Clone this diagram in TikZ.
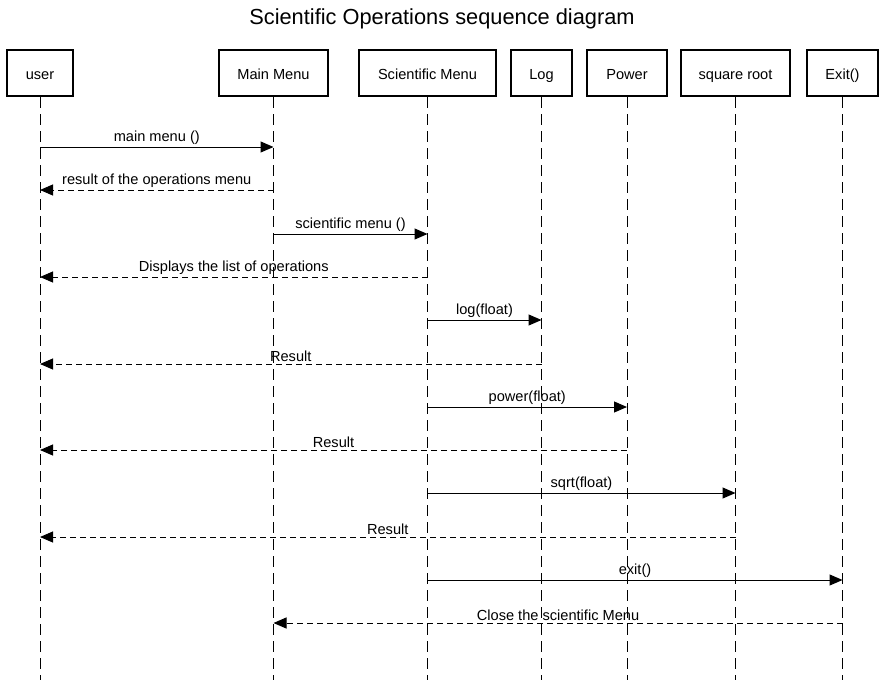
\documentclass[tikz,border=0pt]{standalone}
\usepackage{fontspec}
\setmainfont{Liberation Sans}
\usetikzlibrary{arrows.meta}
\begin{document}
\begin{tikzpicture}[x=1pt,y=-1pt,
  actor/.style={draw,line width=2pt,minimum height=46pt,inner sep=0pt,text height=12.6pt,text depth=0pt,font=\fontsize{14.6}{16}\selectfont,fill=white},
  lifeline/.style={line width=0.9pt,dash pattern=on 11pt off 6pt},
  msg/.style={line width=1pt,-{Triangle[length=13pt,width=11pt]}},
  ret/.style={msg,dash pattern=on 6pt off 4pt},
  lbl/.style={font=\fontsize{14.6}{16}\selectfont,inner sep=1pt,above=0.5pt}]
\useasboundingbox (0,0) rectangle (885,680);
\node[font=\fontsize{21.8}{24}\selectfont] (title) at (442,19) {Scientific Operations sequence diagram};
% actors
\node[actor,minimum width=66pt] (user) at (40,73) {user};
\node[actor,minimum width=109pt] (main) at (273.5,73) {Main Menu};
\node[actor,minimum width=137pt] (sci) at (427.5,73) {Scientific Menu};
\node[actor,minimum width=61pt] (log) at (541.5,73) {Log};
\node[actor,minimum width=80pt] (pow) at (627,73) {Power};
\node[actor,minimum width=109pt] (sqr) at (735.5,73) {square root};
\node[actor,minimum width=71pt] (ex) at (842.5,73) {Exit()};
% lifelines
\foreach \a in {user,main,sci,log,pow,sqr,ex}{
  \coordinate (\a-end) at (\a.south |- 0,680);
  \draw[lifeline] (\a.south) -- (\a-end);
}
% message anchor points
\foreach \a in {user,main,sci,log,pow,sqr,ex}{
  \foreach \i/\y in {1/147,2/190,3/234,4/277,5/320,6/364,7/407,8/450,9/493,10/537,11/580,12/623}{
    \coordinate (\a-\i) at (\a.south |- 0,\y);
  }
}
\draw[msg] (user-1) -- node[lbl] {main menu ()} (main-1);
\draw[ret] (main-2) -- node[lbl] {result of the operations menu} (user-2);
\draw[msg] (main-3) -- node[lbl] {scientific menu ()} (sci-3);
\draw[ret] (sci-4) -- node[lbl] {Displays the list of operations} (user-4);
\draw[msg] (sci-5) -- node[lbl] {log(float)} (log-5);
\draw[ret] (log-6) -- node[lbl] {Result} (user-6);
\draw[msg] (sci-7) -- node[lbl] {power(float)} (pow-7);
\draw[ret] (pow-8) -- node[lbl] {Result} (user-8);
\draw[msg] (sci-9) -- node[lbl] {sqrt(float)} (sqr-9);
\draw[ret] (sqr-10) -- node[lbl] {Result} (user-10);
\draw[msg] (sci-11) -- node[lbl] {exit()} (ex-11);
\draw[ret] (ex-12) -- node[lbl] {Close the scientific Menu} (main-12);
\end{tikzpicture}
\end{document}
